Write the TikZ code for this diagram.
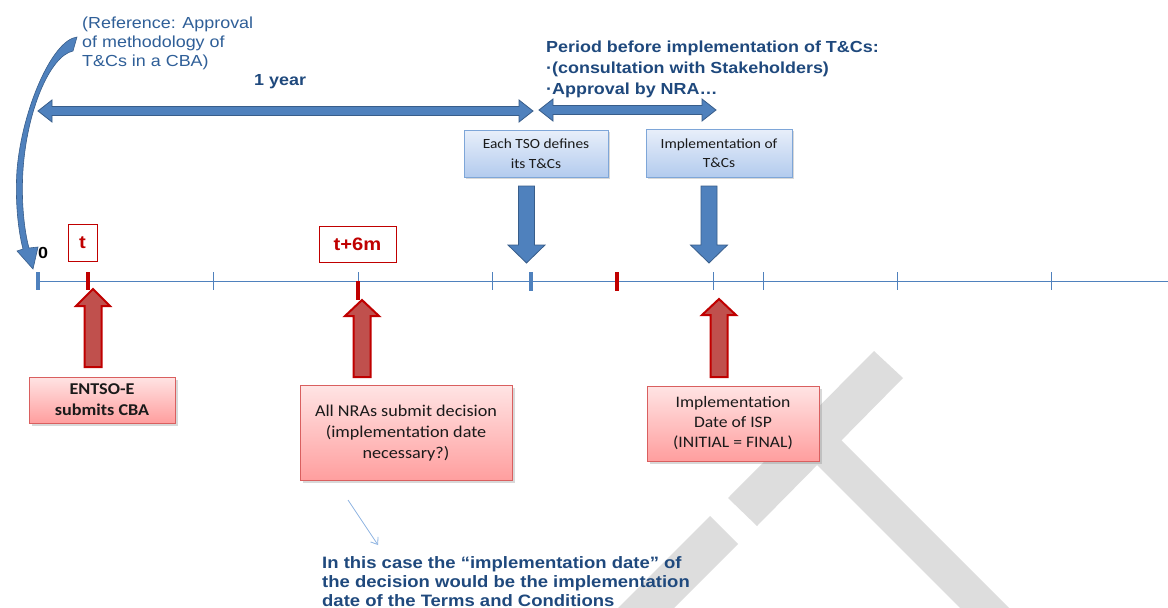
\documentclass[tikz,border=0pt]{standalone}
\usepackage{fontspec}
\setmainfont{Liberation Sans}[FakeStretch=1.12]
\newfontfamily\calib{Carlito}[FakeStretch=1.1]
\usetikzlibrary{shadows,arrows.meta}

\definecolor{navy}{HTML}{1F497D}
\definecolor{refblue}{HTML}{2F5F98}
\definecolor{bfill}{HTML}{4F81BD}
\definecolor{bedge}{HTML}{385D8A}
\definecolor{rfill}{HTML}{C0504D}
\definecolor{redge}{HTML}{C00000}
\definecolor{tred}{HTML}{C00000}
\definecolor{pinktop}{HTML}{FFE4E4}
\definecolor{pinkbot}{HTML}{FF9E9E}
\definecolor{pinkedge}{HTML}{D95F5F}
\definecolor{lbtop}{HTML}{E8EFFA}
\definecolor{lbbot}{HTML}{B3CBEE}
\definecolor{lbedge}{HTML}{7EA6D8}
\definecolor{wmark}{HTML}{DDDDDD}
\definecolor{thinarrow}{HTML}{8DB3E2}
\definecolor{boxtext}{HTML}{1A1A1A}

\tikzset{
  headline/.style={text=navy, font=\bfseries\fontsize{16}{21}\selectfont, align=left, inner sep=0pt},
  pinkbox/.style={draw=pinkedge, line width=0.9pt, top color=pinktop, bottom color=pinkbot,
    drop shadow={shadow xshift=2.5pt, shadow yshift=-2.5pt, opacity=0.3},
    text=boxtext, align=center, inner sep=0pt},
  lightbox/.style={draw=lbedge, line width=0.9pt, top color=lbtop, bottom color=lbbot,
    drop shadow={shadow xshift=2pt, shadow yshift=-2pt, opacity=0.3},
    text=boxtext, align=center, inner sep=0pt,
    font=\calib\fontsize{14}{19.5}\selectfont},
  timebox/.style={draw=tred, line width=0.8pt, fill=white, text=tred,
    font=\bfseries\fontsize{18}{20}\selectfont, inner sep=0pt},
  blockblue/.style={fill=bfill, draw=bedge, line width=0.8pt, line join=miter},
  blockred/.style={fill=rfill, draw=redge, line width=2pt, line join=miter},
  axisline/.style={draw=bfill, line width=1pt},
  thintick/.style={draw=bfill, line width=1pt},
  bluetick/.style={draw=bfill, line width=4pt},
  redtick/.style={draw=redge, line width=4pt},
}

% upward block arrow: centre x, tip y, head base y, tail y
\newcommand\blockup[5]{%
  \draw[#1] (#2,#3) -- (#2+17,#4) -- (#2+8.5,#4) -- (#2+8.5,#5)
    -- (#2-8.5,#5) -- (#2-8.5,#4) -- (#2-17,#4) -- cycle;}
% downward block arrow: centre x, tail y, head base y, tip y
\newcommand\blockdown[5]{%
  \draw[#1] (#2-8,#3) -- (#2+8,#3) -- (#2+8,#4) -- (#2+18.5,#4)
    -- (#2,#5) -- (#2-18.5,#4) -- (#2-8,#4) -- cycle;}
% horizontal double block arrow: left tip x, right tip x, centre y
\newcommand\blockboth[3]{%
  \draw[blockblue] (#1,#3) -- (#1+14,#3-11) -- (#1+14,#3-4.5) -- (#2-14,#3-4.5)
    -- (#2-14,#3-11) -- (#2,#3) -- (#2-14,#3+11) -- (#2-14,#3+4.5)
    -- (#1+14,#3+4.5) -- (#1+14,#3+11) -- cycle;}

\begin{document}
\begin{tikzpicture}[x=1pt,y=-1pt]
\useasboundingbox (0,0) rectangle (1168,608);
\fill[white] (0,0) rectangle (1168,608);

% grey watermark bands
\fill[wmark] (874,351) -- (903,378) -- (757,526) -- (728,498) -- cycle;
\fill[wmark] (710,516) -- (738,544) -- (674,608) -- (618,608) -- cycle;
\fill[wmark] (788.5,436.5) -- (813,412) -- (1009,608) -- (960,608) -- cycle;

% time axis
\draw[axisline] (38,281) coordinate (axstart) -- (1168,281) coordinate (axend);
\foreach \x in {213,492,713,763,897,1051}
  \draw[thintick] (\x,272) -- (\x,290);
\draw[thintick] (358,272) -- (358,281);
\draw[bluetick] (38,272) -- (38,290);
\draw[redtick] (88,272) -- (88,290);
\draw[redtick] (358,281) -- (358,300);
\draw[bluetick] (531,272) -- (531,291);
\draw[redtick] (617,272) -- (617,291);

% period arrows
\blockboth{38}{533}{111}
\blockboth{539}{716}{110}

% texts at the top
\node[anchor=north west, text=refblue, font=\fontsize{16}{19}\selectfont, align=left, inner sep=0pt]
  (ref) at (82,17) {(Reference: Approval\\of methodology of\\T\&Cs in a CBA)};
\node[anchor=base west, text=navy, font=\bfseries\fontsize{16}{19}\selectfont, inner sep=0pt]
  (year) at (254,85.5) {1 year};
\node[headline, anchor=north west] (period) at (546,41)
  {Period before implementation of T\&Cs:\\·(consultation with Stakeholders)\\·Approval by NRA…};

% curved reference arrow
\filldraw[fill=bfill, draw=bedge, line width=0.6pt, line join=miter]
  (77,37) .. controls (52,40) and (22,110) .. (17,170)
  .. controls (15,200) and (18,230) .. (23,249)
  -- (17,251) -- (33,269) -- (38,247) -- (29,248)
  .. controls (24,230) and (21,200) .. (23,170)
  .. controls (27,110) and (50,56) .. (73,51) -- cycle;

% light blue boxes and their arrows
\node[lightbox, minimum width=144pt, minimum height=47pt] (tso) at (536,153.5)
  {Each TSO defines\\its T\&Cs};
\node[lightbox, minimum width=146pt, minimum height=48pt] (impl) at (719,153)
  {Implementation of\\T\&Cs};
\blockdown{blockblue}{526.5}{186}{245}{263}
\blockdown{blockblue}{709}{186}{245}{263}

% time labels
\node[font=\bfseries\fontsize{16}{19}\selectfont, inner sep=0pt] (zero) at (43,253) {0};
\node[timebox, minimum width=29pt, minimum height=37pt] (tlab) at (82.5,243) {t};
\node[timebox, minimum width=77pt, minimum height=36pt] (t6m) at (357.5,244) {t+6m};

% event boxes and their arrows
\blockup{blockred}{93}{289}{306}{367}
\blockup{blockred}{362}{300}{316}{377}
\blockup{blockred}{719}{299}{315}{377}
\node[pinkbox, minimum width=146pt, minimum height=46pt,
  font=\calib\bfseries\fontsize{16.5}{21}\selectfont] (entso) at (102,400)
  {ENTSO-E\\submits CBA};
\node[pinkbox, minimum width=212pt, minimum height=95pt,
  font=\calib\fontsize{16.5}{21}\selectfont] (nras) at (406,433)
  {All NRAs submit decision\\(implementation date\\necessary?)};
\node[pinkbox, minimum width=172pt, minimum height=75pt,
  font=\calib\fontsize{16}{20}\selectfont] (isp) at (733,423.5)
  {Implementation\\Date of ISP\\(INITIAL = FINAL)};

% note under the decision box
\node[headline, font=\bfseries\fontsize{16.5}{19}\selectfont, anchor=north west] (note) at (322,556)
  {In this case the “implementation date” of\\the decision would be the implementation\\date of the Terms and Conditions};
\coordinate (notefrom) at (348,500);
\coordinate (noteto) at (378,545);
\draw[thinarrow, line width=0.8pt, -{Straight Barb[length=6pt,width=9pt]}]
  (notefrom) -- (noteto);
\end{tikzpicture}
\end{document}
